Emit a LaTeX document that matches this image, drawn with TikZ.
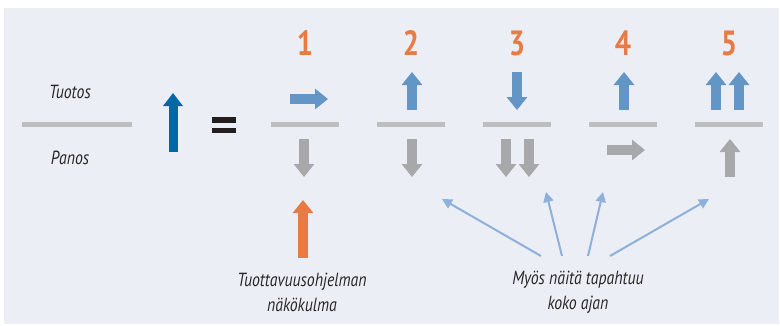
\documentclass[tikz,border=0pt]{standalone}
\usepackage{fontspec}
\usetikzlibrary{arrows.meta}
\newfontfamily\condfont[FakeStretch=0.83]{PT Sans}
\newfontfamily\numfont[FakeStretch=0.82]{PT Sans}
\definecolor{bgc}{HTML}{EBEEF5}
\definecolor{linegray}{HTML}{BDBEBF}
\definecolor{arrgray}{HTML}{A7A8AA}
\definecolor{arrblue}{HTML}{6495C7}
\definecolor{darkblue}{HTML}{0068A5}
\definecolor{orangec}{HTML}{E87A43}
\definecolor{thinblue}{HTML}{8EB0DA}
\definecolor{eqc}{HTML}{231F20}
\tikzset{
  fracline/.style={draw=linegray, line width=5pt},
  blockarr/.style={line width=10pt, -{Triangle[length=13pt,width=20pt]}},
  thinarr/.style={draw=thinblue, line width=2pt, -{Triangle[length=10pt,width=10pt]}},
  label/.style={font=\condfont\itshape\fontsize{19}{25}\selectfont, text=black!85, inner sep=0pt, align=center},
  numlabel/.style={font=\numfont\bfseries\fontsize{35}{36}\selectfont, text=orangec, inner sep=0pt},
}
\begin{document}
\begin{tikzpicture}[x=1pt,y=-1pt]
\useasboundingbox (0,0) rectangle (780,325);
\fill[bgc] (4,8) rectangle (779,324);

% left fraction
\node[label] (tuotos) at (70,92) {Tuotos};
\node[label] (panos) at (70,158) {Panos};
\coordinate (l0a) at (22,124); \coordinate (l0b) at (132,124);
\draw[fracline] (l0a) -- (l0b);
\coordinate (da) at (173,152); \coordinate (db) at (173,93);
\draw[blockarr, draw=darkblue, line width=9pt, -{Triangle[length=13pt,width=19pt]}] (da) -- (db);
\fill[eqc] (212,117) rectangle (236,123);
\fill[eqc] (212,128) rectangle (236,133);

% numbers
\node[numlabel] (n1) at (305,43) {1};
\node[numlabel] (n2) at (411,43) {2};
\node[numlabel] (n3) at (517,43) {3};
\node[numlabel] (n4) at (623,43) {4};
\node[numlabel] (n5) at (729,43) {5};

% fraction lines
\foreach \c/\n in {305/1,411/2,517/3,623/4,729/5}{
  \coordinate (f\n a) at (\c-34,124);
  \coordinate (f\n b) at (\c+34,124);
  \draw[fracline] (f\n a) -- (f\n b);
}

% column 1
\coordinate (b1a) at (290,99); \coordinate (b1b) at (328,99);
\draw[blockarr, draw=arrblue] (b1a) -- (b1b);
\coordinate (g1a) at (304,139); \coordinate (g1b) at (304,177);
\draw[blockarr, draw=arrgray] (g1a) -- (g1b);

% column 2
\coordinate (b2a) at (412,110); \coordinate (b2b) at (412,72);
\draw[blockarr, draw=arrblue] (b2a) -- (b2b);
\coordinate (g2a) at (412,139); \coordinate (g2b) at (412,177);
\draw[blockarr, draw=arrgray] (g2a) -- (g2b);

% column 3
\coordinate (b3a) at (517,72); \coordinate (b3b) at (517,110);
\draw[blockarr, draw=arrblue] (b3a) -- (b3b);
\coordinate (g3a) at (506,139); \coordinate (g3b) at (506,177);
\draw[blockarr, draw=arrgray] (g3a) -- (g3b);
\coordinate (g3c) at (529,139); \coordinate (g3d) at (529,177);
\draw[blockarr, draw=arrgray] (g3c) -- (g3d);

% column 4
\coordinate (b4a) at (624,110); \coordinate (b4b) at (624,72);
\draw[blockarr, draw=arrblue] (b4a) -- (b4b);
\coordinate (g4a) at (607,150); \coordinate (g4b) at (645,150);
\draw[blockarr, draw=arrgray] (g4a) -- (g4b);

% column 5
\coordinate (b5a) at (716,110); \coordinate (b5b) at (716,72);
\draw[blockarr, draw=arrblue] (b5a) -- (b5b);
\coordinate (b5c) at (739,110); \coordinate (b5d) at (739,72);
\draw[blockarr, draw=arrblue] (b5c) -- (b5d);
\coordinate (g5a) at (730,177); \coordinate (g5b) at (730,139);
\draw[blockarr, draw=arrgray] (g5a) -- (g5b);

% orange arrow
\coordinate (oa) at (303,258); \coordinate (ob) at (303,200);
\draw[blockarr, draw=orangec] (oa) -- (ob);

% bottom labels
\node[label] (tuott) at (302,292) {Tuottavuusohjelman\\näkökulma};
\node[label] (myos) at (578,292) {Myös näitä tapahtuu\\koko ajan};

% thin arrows
\coordinate (t1s) at (541,256); \coordinate (t1e) at (442,199);
\coordinate (t2s) at (562,256); \coordinate (t2e) at (546,192);
\coordinate (t3s) at (588,256); \coordinate (t3e) at (603,192);
\coordinate (t4s) at (610,256); \coordinate (t4e) at (709,199);
\draw[thinarr] (t1s) -- (t1e);
\draw[thinarr] (t2s) -- (t2e);
\draw[thinarr] (t3s) -- (t3e);
\draw[thinarr] (t4s) -- (t4e);
\end{tikzpicture}
\end{document}
